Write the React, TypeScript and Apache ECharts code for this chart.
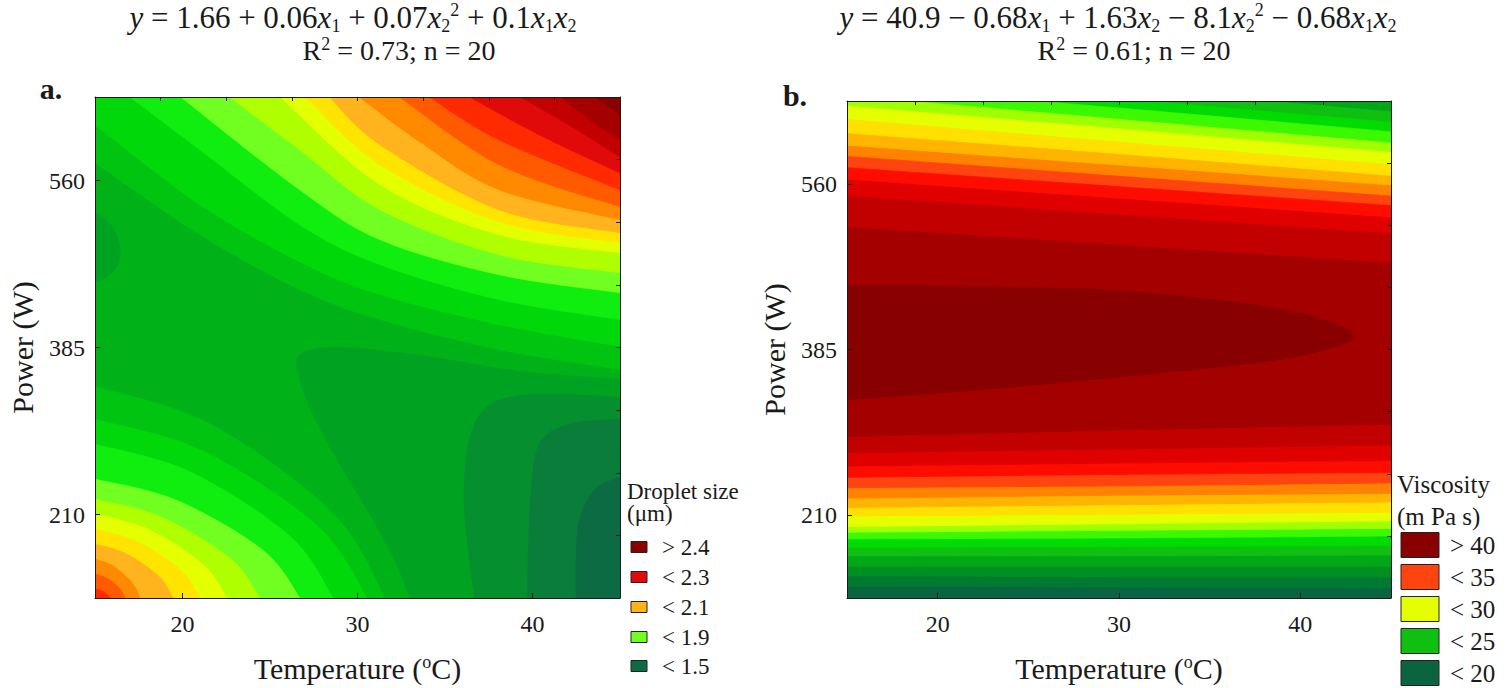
import React, { useEffect, useRef } from "react";
import * as echarts from "echarts";

type Pt = [number, number];
type Region = { band: number; pieces: Pt[][] };

const SERIF = "Liberation Serif, Times New Roman, serif";
const INK = "#1a1a1a";

// Shared axes: temperature (°C) and ultrasound power (W)
const temperatureRange: Pt = [15, 45];
const powerRange: Pt = [122.5, 647.5];
const temperatureTicks = [20, 30, 40];
const powerTicks = [210, 385, 560];
const temperatureMinorTicks = [15, 18.75, 22.5, 26.25, 30, 33.75, 37.5, 41.25, 45];
const powerMinorTicks = [122.5, 188.125, 253.75, 319.375, 385, 450.625, 516.25, 581.875, 647.5];

// ---------- a. Droplet size (µm) ----------
const dropletLevels = [
  1.35, 1.4, 1.45, 1.5, 1.55, 1.6, 1.65, 1.7, 1.75, 1.8, 1.85, 1.9, 1.95, 2.0, 2.05, 2.1, 2.15, 2.2,
  2.25, 2.3, 2.35, 2.4,
];
const dropletColors = [
  "#004e36", "#00573a", "#005f3c", "#0d6b44", "#0a7d3a", "#058f2e", "#00a222", "#00b218",
  "#00c410", "#00d80a", "#10ee10", "#70ff20", "#b0ff00", "#e4ff00", "#ffe400", "#ffb41e",
  "#ff8a00", "#ff5a00", "#ff2a00", "#e00a0a", "#c20000", "#a40000", "#880000",
];
// contour lines [temperature, power] around the high corner at the top right
const dropletTopRight: [number, Pt[]][] = [
  [1.7, [[15, 578.5], [21, 503.2], [26.7, 445.7], [31.3, 414.3], [38.1, 382.9], [45, 362]]],
  [1.75, [[15, 618.2], [21, 534.6], [26.7, 474.9], [31.3, 440.4], [38.1, 409.1], [45, 386.1]]],
  [1.8, [[17, 647.5], [21, 592.1], [26.7, 513.6], [31.3, 471.8], [38.1, 435.2], [45, 414.3]]],
  [1.85, [[19.9, 647.5], [26.7, 550.2], [31.3, 497.9], [38.1, 461.3], [45, 442.5]]],
  [1.9, [[22.7, 647.5], [26.7, 592.1], [31.3, 529.3], [38.1, 482.3], [45, 463.4]]],
  [1.95, [[25.6, 647.5], [31.3, 555.5], [38.1, 503.2], [45, 484.4]]],
  [2.0, [[27, 647.5], [31.3, 576.4], [38.1, 516.8], [45, 494.8]]],
  [2.05, [[28.4, 647.5], [31.3, 597.3], [38.1, 529.3], [45, 505.3]]],
  [2.1, [[30.1, 647.5], [33.6, 600], [38.1, 550.2], [45, 518.9]]],
  [2.15, [[32.4, 647.5], [38.1, 576.4], [45, 532.5]]],
  [2.2, [[34.1, 647.5], [38.1, 602.5], [45, 550.2]]],
  [2.25, [[36.4, 647.5], [40.4, 607.8], [45, 568]]],
  [2.3, [[39.3, 647.5], [42.1, 618.2], [45, 584.8]]],
  [2.35, [[41.6, 647.5], [43.3, 623.4], [45, 602.5]]],
  [2.4, [[43.6, 647.5], [45, 628.7]]],
];
// contour lines around the high corner at the bottom left
const dropletBottomLeft: [number, Pt[]][] = [
  [1.7, [[15, 344.2], [21.63, 304.3], [28.59, 211.2], [31.57, 122.5]]],
  [1.75, [[15, 309.7], [21.22, 276], [27.74, 197.4], [30.54, 122.5]]],
  [1.8, [[15, 283.6], [20.44, 254.6], [26.15, 187], [28.6, 122.5]]],
  [1.85, [[15, 247], [19.69, 224.6], [24.61, 172.3], [26.71, 122.5]]],
  [1.9, [[15, 226], [18.77, 207.4], [22.73, 163.9], [24.43, 122.5]]],
  [1.95, [[15, 210.4], [18.02, 194.6], [21.18, 157.6], [22.54, 122.5]]],
  [2.0, [[15, 194.7], [17.4, 181.7], [19.92, 151.4], [21, 122.5]]],
  [2.05, [[15, 179], [16.78, 168.8], [18.66, 145.1], [19.46, 122.5]]],
  [2.1, [[15, 163.3], [16.03, 156], [17.11, 138.8], [17.57, 122.5]]],
  [2.15, [[15, 147.6], [15.69, 143.1], [16.41, 132.5], [16.71, 122.5]]],
  [2.2, [[15, 131.9], [15.34, 130.3], [15.7, 126.3], [15.86, 122.5]]],
];
// contour lines around the low corner at the bottom right
const dropletBottomRight: [number, Pt[]][] = [
  [1.65, [[45, 351.5], [39.3, 359.9], [33.6, 376.6], [29, 385], [26.7, 377.7], [26.7, 351.5], [27.6, 309.7], [29, 262.6], [30.7, 210.4], [32.1, 163.3], [33, 122.5]]],
  [1.6, [[45, 332.7], [40.4, 335.9], [37.6, 325.4], [36.4, 288.8], [36.1, 226], [36.4, 163.3], [36.7, 122.5]]],
  [1.55, [[45, 309.7], [42.1, 304.5], [40.4, 283.6], [39.9, 226], [39.7, 122.5]]],
  [1.5, [[45, 249], [43.6, 236.5], [42.7, 205.1], [42.5, 163.3], [42.5, 122.5]]],
];
// small low pocket on the 15 °C edge
const dropletLeftDip: [number, Pt[]][] = [
  [1.65, [[15, 526.2], [15.9, 513.6], [16.4, 492.7], [16.3, 471.8], [15.6, 458.2], [15, 454]]],
];
const dropletLegend: [string, number, boolean][] = [
  ["> 2.4", 2.4, true],
  ["< 2.3", 2.3, false],
  ["< 2.1", 2.1, false],
  ["< 1.9", 1.9, false],
  ["< 1.5", 1.5, false],
];

// ---------- b. Viscosity (mPa s) ----------
const viscosityLevels = [
  17.5, 18.75, 20, 21.25, 22.5, 23.75, 25, 26.25, 27.5, 28.75, 30, 31.25, 32.5, 33.75, 35, 36.25,
  37.5, 38.75, 40,
];
const viscosityColors = [
  "#004a34", "#00563a", "#0b6440", "#007a30", "#009022", "#00a818", "#10c010", "#00dc00",
  "#3cf800", "#a0ff00", "#e6ff00", "#ffe000", "#ffb400", "#ff8200", "#ff4410", "#ff0c00",
  "#e00000", "#c20000", "#a40000", "#880000",
];
// contour powers (W) read at these temperatures
const viscosityStations = [15, 30, 45];
const viscosityLower: [number, number[]][] = [
  [20, [135, 134, 133]],
  [21.25, [146, 145, 145]],
  [22.5, [156, 156, 156]],
  [23.75, [167, 167, 168]],
  [25, [176, 177, 178]],
  [26.25, [185, 186, 188]],
  [27.5, [192, 194, 196]],
  [28.75, [198, 201, 204]],
  [30, [209, 211, 213]],
  [31.25, [218, 221, 224]],
  [32.5, [228, 231, 233]],
  [33.75, [239, 241, 244]],
  [35, [250, 253, 255]],
  [36.25, [262, 265, 268]],
  [37.5, [276, 280, 284]],
  [38.75, [293, 300, 306]],
];
const viscosityUpper: [number, number[]][] = [
  [20, [720, 700, 680]],
  [21.25, [710, 690, 668]],
  [22.5, [696, 672, 649]],
  [23.75, [686, 661, 636]],
  [25, [675, 650, 625]],
  [26.25, [664, 640, 615]],
  [27.5, [653, 628, 603]],
  [28.75, [642, 618, 593]],
  [30, [628, 604, 580]],
  [31.25, [613, 591, 568]],
  [32.5, [600, 579, 558]],
  [33.75, [589, 568, 547]],
  [35, [577, 557, 537]],
  [36.25, [564, 544, 524]],
  [37.5, [547, 527, 507]],
  [38.75, [514, 495, 476]],
];
// closed 40 mPa s contour around the maximum
const viscosityPeak: Pt[] = [
  [15, 453], [22.5, 451], [30, 447], [37.5, 432], [41, 418], [43, 399], [41, 383], [37.5, 371],
  [30, 356], [22.5, 343], [15, 332],
];
const viscosityLegend: [string, number, boolean][] = [
  ["> 40", 40, true],
  ["< 35", 35, false],
  ["< 30", 30, false],
  ["< 25", 25, false],
  ["< 20", 20, false],
];

// ---------- region building ----------
const [T0, T1] = temperatureRange;
const [P0, P1] = powerRange;
const TL: Pt = [T0, P1];
const TR: Pt = [T1, P1];
const BL: Pt = [T0, P0];
const BR: Pt = [T1, P0];

const bandOf = (levels: number[], level: number, above: boolean) =>
  levels.indexOf(level) + (above ? 1 : 0);

function dropletRegions(): Region[] {
  const regions: Region[] = [
    { band: bandOf(dropletLevels, 1.65, true), pieces: [[TL], [TR], [BR], [BL]] },
  ];
  dropletTopRight.forEach(([lv, line]) =>
    regions.push({
      band: bandOf(dropletLevels, lv, true),
      pieces: line[0][0] === T0 ? [line, [TR], [TL]] : [line, [TR]],
    })
  );
  dropletBottomLeft.forEach(([lv, line]) =>
    regions.push({ band: bandOf(dropletLevels, lv, true), pieces: [line, [BL]] })
  );
  dropletBottomRight.forEach(([lv, line]) =>
    regions.push({ band: bandOf(dropletLevels, lv, false), pieces: [line, [BR]] })
  );
  dropletLeftDip.forEach(([lv, line]) =>
    regions.push({ band: bandOf(dropletLevels, lv, false), pieces: [line] })
  );
  return regions;
}

function viscosityRegions(): Region[] {
  const regions: Region[] = [
    { band: bandOf(viscosityLevels, 18.75, true), pieces: [[TL], [TR], [BR], [BL]] },
  ];
  viscosityLower.forEach(([lv, lower], i) => {
    const upper = viscosityUpper[i][1];
    const lowerLine = viscosityStations.map((t, j) => [t, lower[j]] as Pt);
    const upperLine = viscosityStations.map((t, j) => [t, upper[j]] as Pt).reverse();
    regions.push({ band: bandOf(viscosityLevels, lv, true), pieces: [lowerLine, upperLine] });
  });
  regions.push({ band: bandOf(viscosityLevels, 40, true), pieces: [viscosityPeak] });
  return regions;
}

const fmt = (p: number[]) => p[0].toFixed(2) + " " + p[1].toFixed(2);

function contourSeries(regions: Region[], colors: string[], axisIndex: number) {
  return {
    type: "custom",
    xAxisIndex: axisIndex,
    yAxisIndex: axisIndex,
    clip: true,
    silent: true,
    z: 2,
    data: regions.map((_, i) => [30, 385, i]),
    encode: { x: 0, y: 1 },
    renderItem: (_params: any, api: any) => {
      const region = regions[api.value(2)];
      const color = colors[region.band];
      let d = "";
      region.pieces.forEach((piece, pi) => {
        const px = piece.map((p) => api.coord(p));
        d += (pi === 0 ? "M" : "L") + fmt(px[0]);
        for (let j = 0; j + 1 < px.length; j++) {
          const p0 = px[Math.max(j - 1, 0)];
          const p1 = px[j];
          const p2 = px[j + 1];
          const p3 = px[Math.min(j + 2, px.length - 1)];
          const c1 = [p1[0] + (p2[0] - p0[0]) / 6, p1[1] + (p2[1] - p0[1]) / 6];
          const c2 = [p2[0] - (p3[0] - p1[0]) / 6, p2[1] - (p3[1] - p1[1]) / 6];
          d += "C" + fmt(c1) + " " + fmt(c2) + " " + fmt(p2);
        }
      });
      d += "Z";
      return {
        type: "path",
        shape: { pathData: d },
        style: { fill: color, stroke: color, lineWidth: 0.8 },
      };
    },
  };
}

// ---------- axes ----------
const lineStyle = { color: INK, width: 1 };
const tickFont = { fontFamily: SERIF, fontSize: 24, color: INK };
const nameFont = {
  fontFamily: SERIF,
  fontSize: 30,
  color: INK,
  rich: {
    sp: { fontFamily: SERIF, fontSize: 18, color: INK, lineHeight: 18, verticalAlign: "top" },
  },
};

function axesFor(grid: number) {
  const x = [
    {
      type: "value",
      gridIndex: grid,
      position: "bottom",
      min: T0,
      max: T1,
      z: 5,
      splitLine: { show: false },
      axisLine: { show: true, lineStyle },
      axisTick: { show: true, inside: true, length: 5, customValues: temperatureTicks, lineStyle },
      axisLabel: { ...tickFont, margin: 14, customValues: temperatureTicks },
      name: "Temperature ({sp|o}C)",
      nameLocation: "middle",
      nameGap: 55,
      nameTextStyle: nameFont,
    },
    {
      type: "value",
      gridIndex: grid,
      position: "top",
      min: T0,
      max: T1,
      z: 5,
      splitLine: { show: false },
      axisLine: { show: true, lineStyle },
      axisTick: { show: true, inside: true, length: 4, customValues: temperatureMinorTicks, lineStyle },
      axisLabel: { show: false },
    },
  ];
  const y = [
    {
      type: "value",
      gridIndex: grid,
      position: "left",
      min: P0,
      max: P1,
      z: 5,
      splitLine: { show: false },
      axisLine: { show: true, lineStyle },
      axisTick: { show: true, inside: true, length: 5, customValues: powerTicks, lineStyle },
      axisLabel: { ...tickFont, margin: 10, customValues: powerTicks },
      name: "Power (W)",
      nameLocation: "middle",
      nameGap: 58,
      nameTextStyle: nameFont,
    },
    {
      type: "value",
      gridIndex: grid,
      position: "right",
      min: P0,
      max: P1,
      z: 5,
      splitLine: { show: false },
      axisLine: { show: true, lineStyle },
      axisTick: { show: true, inside: true, length: 4, customValues: powerMinorTicks, lineStyle },
      axisLabel: { show: false },
    },
  ];
  return { x, y };
}

// ---------- texts ----------
const EQ_SIZE = 31;
const eqRich = {
  i: { fontFamily: SERIF, fontSize: EQ_SIZE, fontStyle: "italic", lineHeight: 34, fill: INK },
  sb: { fontFamily: SERIF, fontSize: 18, lineHeight: 18, verticalAlign: "bottom", fill: INK },
  sp: { fontFamily: SERIF, fontSize: 18, lineHeight: 16, verticalAlign: "top", fill: INK },
};

function text(x: number, y: number, content: string, extra: any = {}) {
  return {
    type: "text",
    x,
    y,
    silent: true,
    style: {
      text: content,
      fill: INK,
      fontFamily: SERIF,
      fontSize: 30,
      lineHeight: 34,
      align: "center",
      verticalAlign: "middle",
      rich: eqRich,
      ...extra,
    },
  };
}

function legend(
  items: [string, number, boolean][],
  levels: number[],
  colors: string[],
  opt: { left: number; title: string[]; titleY: number[]; boxX: number; boxW: number; boxH: number; textX: number; rowY: number[]; size: number }
) {
  const els: any[] = [];
  opt.title.forEach((t, i) =>
    els.push(text(opt.left, opt.titleY[i], t, { align: "left", fontSize: opt.size, lineHeight: opt.size }))
  );
  items.forEach(([label, lv, above], i) => {
    els.push({
      type: "rect",
      silent: true,
      shape: { x: opt.boxX, y: opt.rowY[i] - opt.boxH / 2, width: opt.boxW, height: opt.boxH },
      style: { fill: colors[bandOf(levels, lv, above)], stroke: "#222", lineWidth: 1 },
    });
    els.push(text(opt.textX, opt.rowY[i], label, { align: "left", fontSize: opt.size, lineHeight: opt.size }));
  });
  return els;
}

export default function App() {
  const ref = useRef<HTMLDivElement>(null);

  useEffect(() => {
    if (!ref.current) return;
    const chart = echarts.init(ref.current, null, { renderer: "svg" });
    const a = axesFor(0);
    const b = axesFor(1);

    const graphic: any[] = [
      text(51, 88, "a.", { fontWeight: "bold", fontSize: 30 }),
      text(795, 95, "b.", { fontWeight: "bold", fontSize: 30 }),
      text(353, 17.5, "{i|y} = 1.66 + 0.06{i|x}{sb|1} + 0.07{i|x}{sb|2}{sp|2} + 0.1{i|x}{sb|1}{i|x}{sb|2}", {
        fontSize: EQ_SIZE,
      }),
      text(399, 50, "R{sp|2} = 0.73; n = 20", { fontSize: 28, lineHeight: 30 }),
      text(
        1118,
        17.5,
        "{i|y} = 40.9 \u2212 0.68{i|x}{sb|1} + 1.63{i|x}{sb|2} \u2212 8.1{i|x}{sb|2}{sp|2} \u2212 0.68{i|x}{sb|1}{i|x}{sb|2}",
        { fontSize: EQ_SIZE }
      ),
      text(1134, 50, "R{sp|2} = 0.61; n = 20", { fontSize: 28, lineHeight: 30 }),
      ...legend(dropletLegend, dropletLevels, dropletColors, {
        left: 627,
        title: ["Droplet size", "(\u03bcm)"],
        titleY: [491, 513],
        boxX: 631,
        boxW: 16,
        boxH: 11,
        textX: 662,
        rowY: [547, 577, 607, 637, 666],
        size: 23,
      }),
      ...legend(viscosityLegend, viscosityLevels, viscosityColors, {
        left: 1397,
        title: ["Viscosity", "(m Pa s)"],
        titleY: [484, 516],
        boxX: 1401,
        boxW: 38,
        boxH: 25,
        textX: 1450,
        rowY: [545, 577, 609, 641, 673],
        size: 25,
      }),
    ];

    chart.setOption({
      animation: false,
      backgroundColor: "#ffffff",
      grid: [
        { left: 95, top: 97, width: 525, height: 502 },
        { left: 847, top: 101, width: 544, height: 498 },
      ],
      xAxis: [...a.x, ...b.x],
      yAxis: [...a.y, ...b.y],
      series: [
        { ...contourSeries(dropletRegions(), dropletColors, 0), xAxisIndex: 0, yAxisIndex: 0 },
        { ...contourSeries(viscosityRegions(), viscosityColors, 2), xAxisIndex: 2, yAxisIndex: 2 },
      ],
      graphic,
    });
    return () => chart.dispose();
  }, []);

  return (
    <div
      ref={ref}
      style={{ position: "fixed", left: 0, top: 0, width: 1511, height: 688, background: "#fff" }}
    />
  );
}
